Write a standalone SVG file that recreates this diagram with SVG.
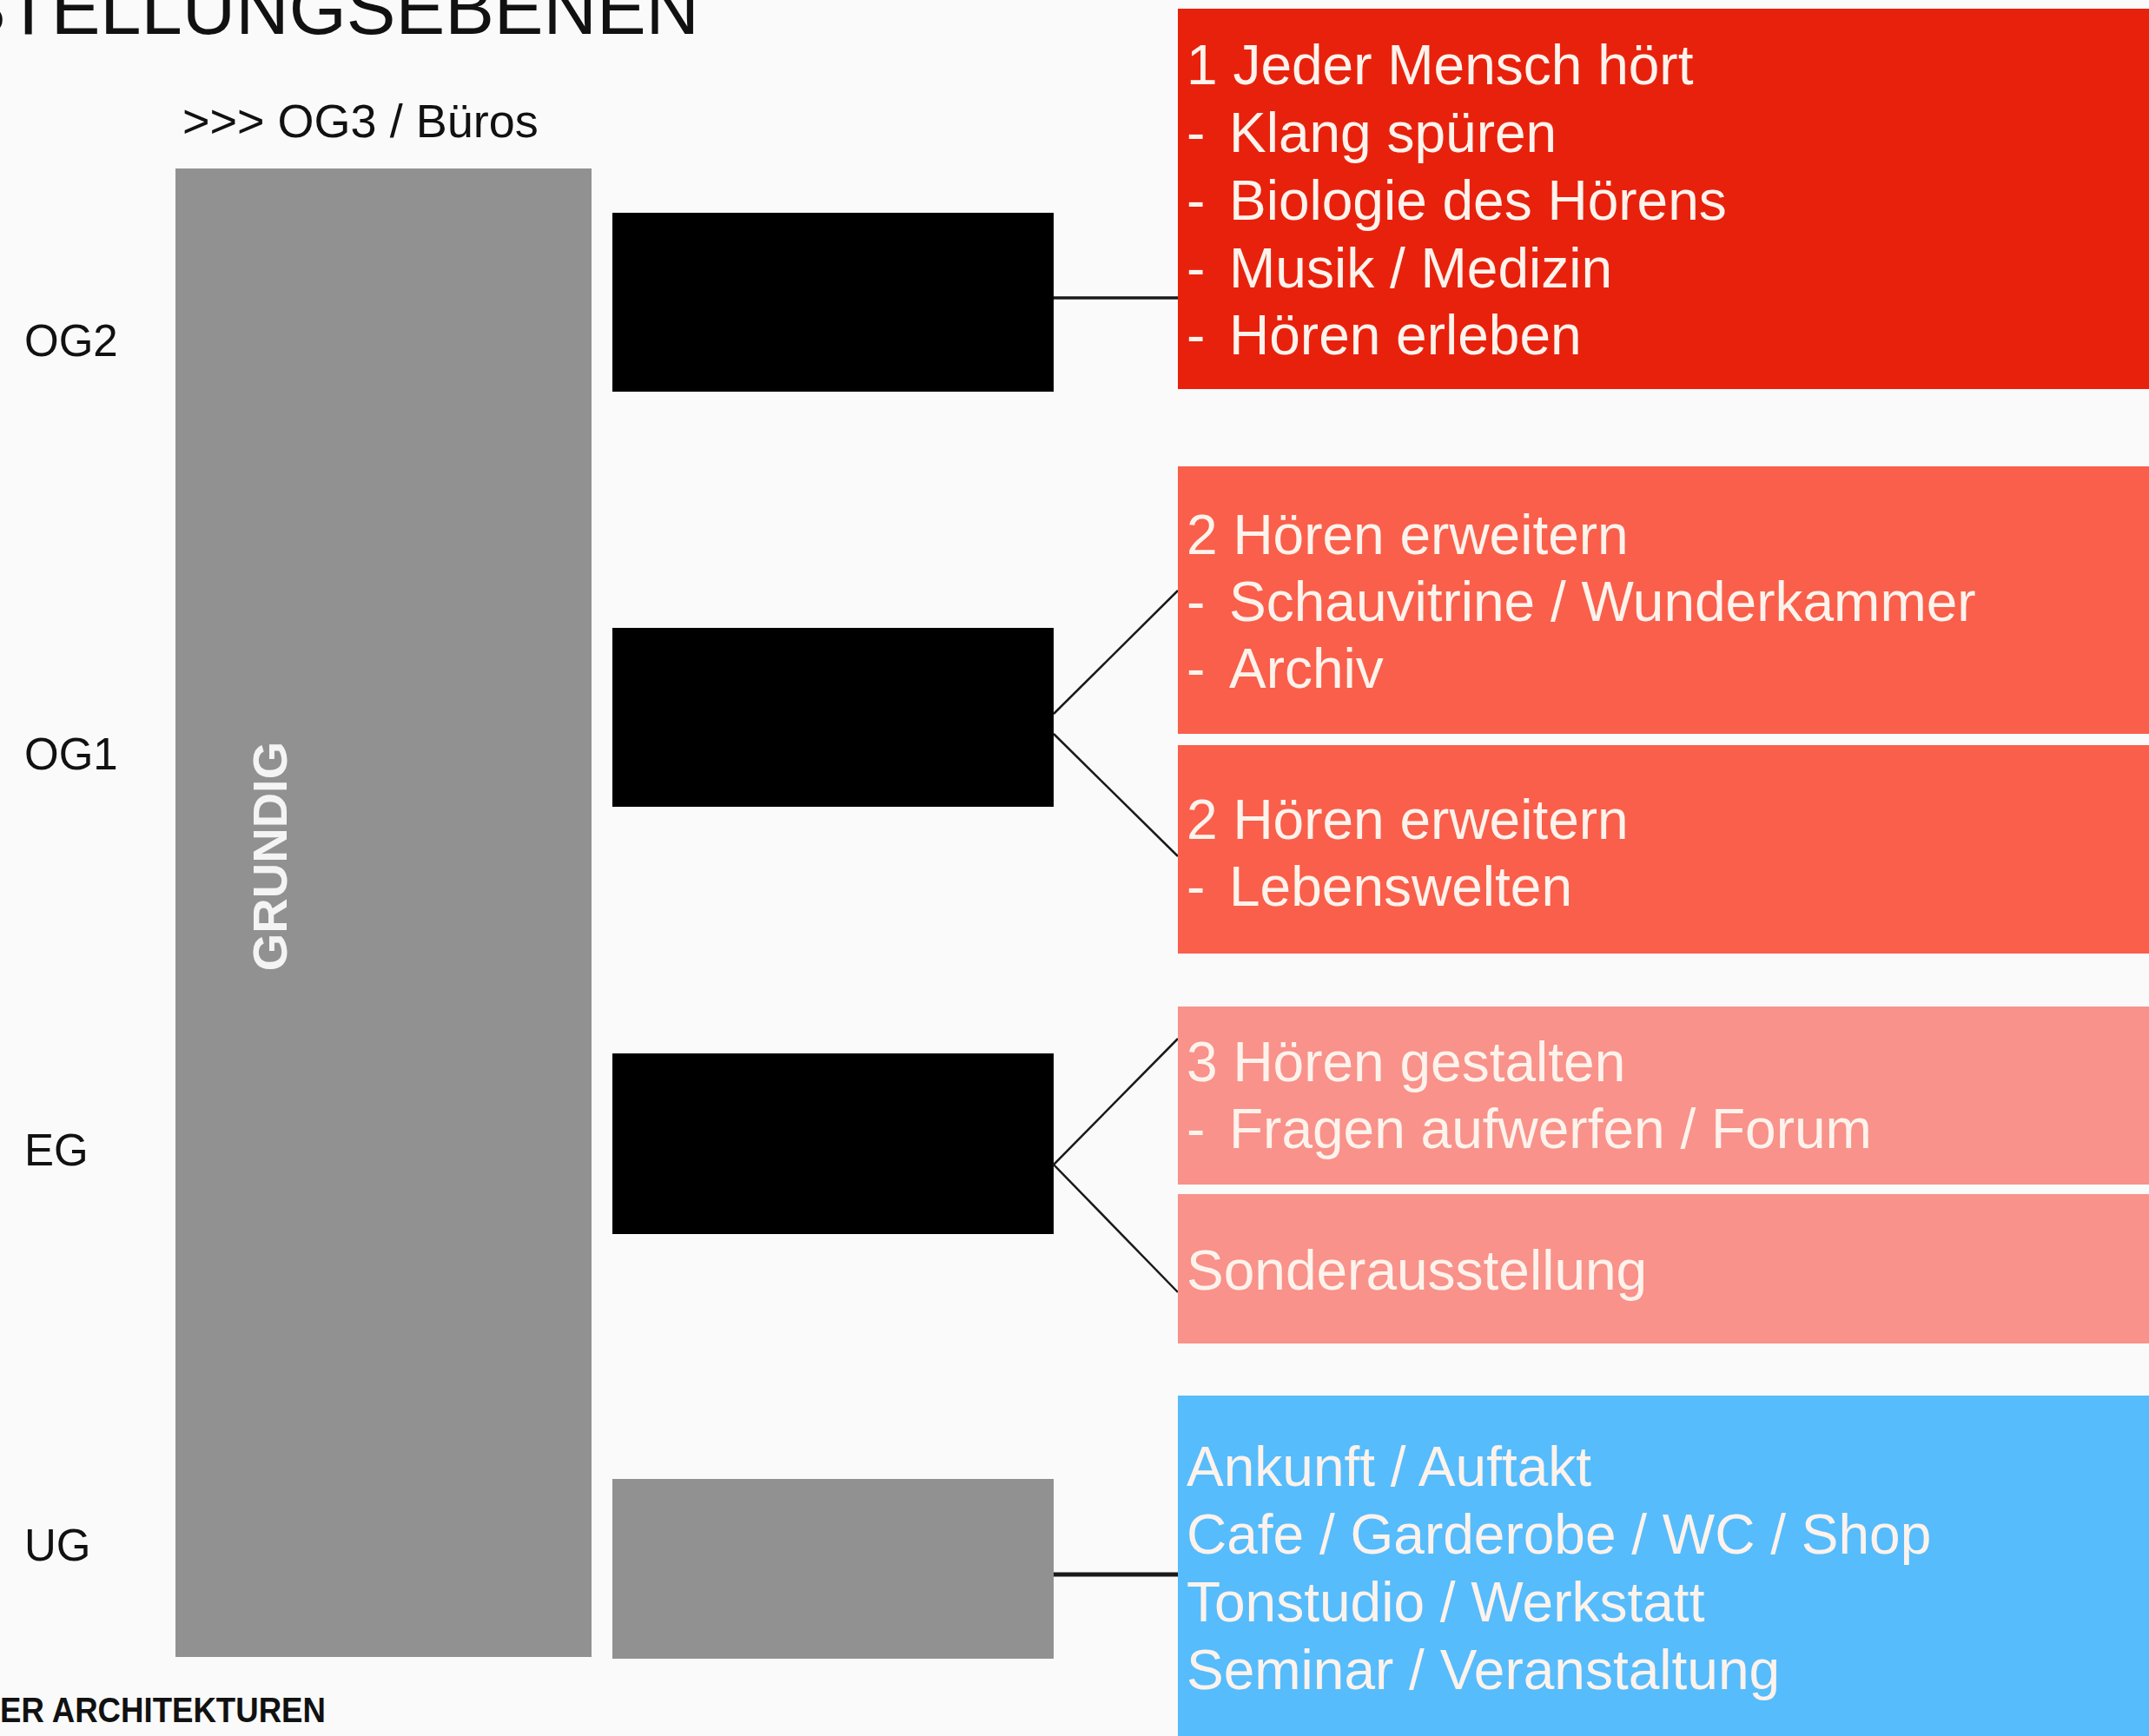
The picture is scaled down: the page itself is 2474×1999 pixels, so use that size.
<svg xmlns="http://www.w3.org/2000/svg" width="2474" height="1999" viewBox="0 0 2474 1999">
<style>
.lbl{font-family:"Liberation Sans",Arial,sans-serif;fill:#111;}
.bx{font-family:"Liberation Sans",Arial,sans-serif;font-size:64px;fill:#FDF3EC;}
.con{stroke:#1a1a1a;fill:none;}
</style>
<rect x="0" y="0" width="2474" height="1999" fill="#FAFAFA"/>
<text class="lbl" x="805" y="39" font-size="85" text-anchor="end">STELLUNGSEBENEN</text>
<text class="lbl" x="0" y="1983" font-size="40" font-weight="bold" textLength="375" lengthAdjust="spacingAndGlyphs">ER ARCHITEKTUREN</text>
<text class="lbl" x="210" y="158" font-size="54">&gt;&gt;&gt; OG3 / Büros</text>
<g id="levels">
<text class="lbl" x="28" y="410" font-size="51">OG2</text>
<text class="lbl" x="28" y="886" font-size="51">OG1</text>
<text class="lbl" x="28" y="1342" font-size="51">EG</text>
<text class="lbl" x="28" y="1797" font-size="51">UG</text>
</g>
<g id="grundig">
<rect x="202" y="194" width="479" height="1714" fill="#919191"/>
<text transform="translate(330,986) rotate(-90)" x="0" y="0" text-anchor="middle" font-family="'Liberation Sans',Arial,sans-serif" font-weight="bold" font-size="56" fill="#F4F4F4">GRUNDIG</text>
</g>
<g id="floor-og2"><rect x="705" y="245" width="508" height="206" fill="#000"/></g>
<g id="floor-og1"><rect x="705" y="723" width="508" height="206" fill="#000"/></g>
<g id="floor-eg"><rect x="705" y="1213" width="508" height="208" fill="#000"/></g>
<g id="floor-ug"><rect x="705" y="1703" width="508" height="207" fill="#919191"/></g>
<g id="connectors">
<line class="con" x1="1213" y1="343" x2="1356" y2="343" stroke-width="3.5"/>
<line class="con" x1="1213" y1="822" x2="1356" y2="680" stroke-width="2.5"/>
<line class="con" x1="1213" y1="845" x2="1356" y2="986" stroke-width="2.5"/>
<polyline class="con" points="1356,1196 1213,1341 1356,1488" stroke-width="2.5"/>
<line class="con" x1="1213" y1="1813" x2="1356" y2="1813" stroke-width="5" stroke="#333"/>
</g>
<g id="box1">
<rect x="1356" y="10" width="1118" height="438" fill="#E8210D"/>
<text class="bx" x="1366" y="97">1 Jeder Mensch hört</text>
<text class="bx" x="1366" y="175">-</text><text class="bx" x="1415" y="175">Klang spüren</text>
<text class="bx" x="1366" y="253">-</text><text class="bx" x="1415" y="253">Biologie des Hörens</text>
<text class="bx" x="1366" y="331">-</text><text class="bx" x="1415" y="331">Musik / Medizin</text>
<text class="bx" x="1366" y="408">-</text><text class="bx" x="1415" y="408">Hören erleben</text>
</g>
<g id="box2a">
<rect x="1356" y="537" width="1118" height="308" fill="#F95F4B"/>
<text class="bx" x="1366" y="638">2 Hören erweitern</text>
<text class="bx" x="1366" y="715">-</text><text class="bx" x="1415" y="715">Schauvitrine / Wunderkammer</text>
<text class="bx" x="1366" y="792">-</text><text class="bx" x="1415" y="792">Archiv</text>
</g>
<g id="box2b">
<rect x="1356" y="858" width="1118" height="240" fill="#F95F4B"/>
<text class="bx" x="1366" y="966">2 Hören erweitern</text>
<text class="bx" x="1366" y="1043">-</text><text class="bx" x="1415" y="1043">Lebenswelten</text>
</g>
<g id="box3a">
<rect x="1356" y="1159" width="1118" height="205" fill="#F8928A"/>
<text class="bx" x="1366" y="1245">3 Hören gestalten</text>
<text class="bx" x="1366" y="1322">-</text><text class="bx" x="1415" y="1322">Fragen aufwerfen / Forum</text>
</g>
<g id="box3b">
<rect x="1356" y="1375" width="1118" height="172" fill="#F8928A"/>
<text class="bx" x="1366" y="1485">Sonderausstellung</text>
</g>
<g id="box-ug">
<rect x="1356" y="1607" width="1118" height="392" fill="#56BCFC"/>
<text class="bx" x="1366" y="1711">Ankunft / Auftakt</text>
<text class="bx" x="1366" y="1789">Cafe / Garderobe / WC / Shop</text>
<text class="bx" x="1366" y="1867">Tonstudio / Werkstatt</text>
<text class="bx" x="1366" y="1945">Seminar / Veranstaltung</text>
</g>
</svg>
